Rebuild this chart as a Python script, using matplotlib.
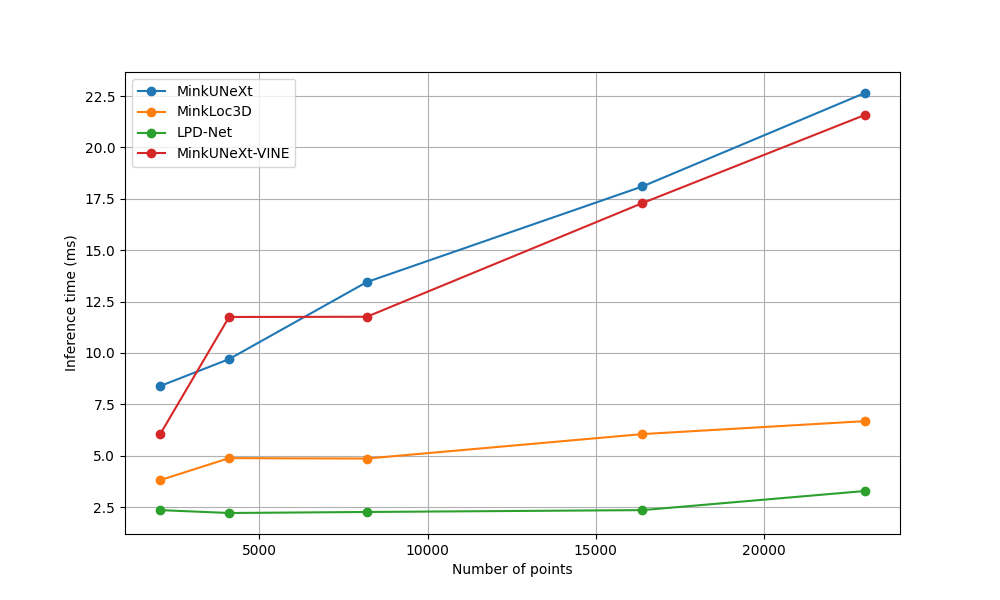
import matplotlib
matplotlib.use("Agg")
import matplotlib.pyplot as plt

num_points = [2048, 4096, 8192, 16384, 23000]

minkunext = [8.39, 9.70, 13.45, 18.10, 22.65]
minkloc3d = [3.81, 4.88, 4.86, 6.05, 6.68]
lpd_net = [2.35, 2.21, 2.26, 2.35, 3.28]
minkunext_vine = [6.05, 11.75, 11.76, 17.29, 21.58]

fig = plt.figure(figsize=(10, 6), dpi=100)
plt.plot(num_points, minkunext, marker='o', label='MinkUNeXt')
plt.plot(num_points, minkloc3d, marker='o', label='MinkLoc3D')
plt.plot(num_points, lpd_net, marker='o', label='LPD-Net')
plt.plot(num_points, minkunext_vine, marker='o', label='MinkUNeXt-VINE')
plt.xlabel('Number of points')
plt.ylabel('Inference time (ms)')
plt.legend(loc='upper left')
plt.grid(True)
plt.savefig('out.png')
